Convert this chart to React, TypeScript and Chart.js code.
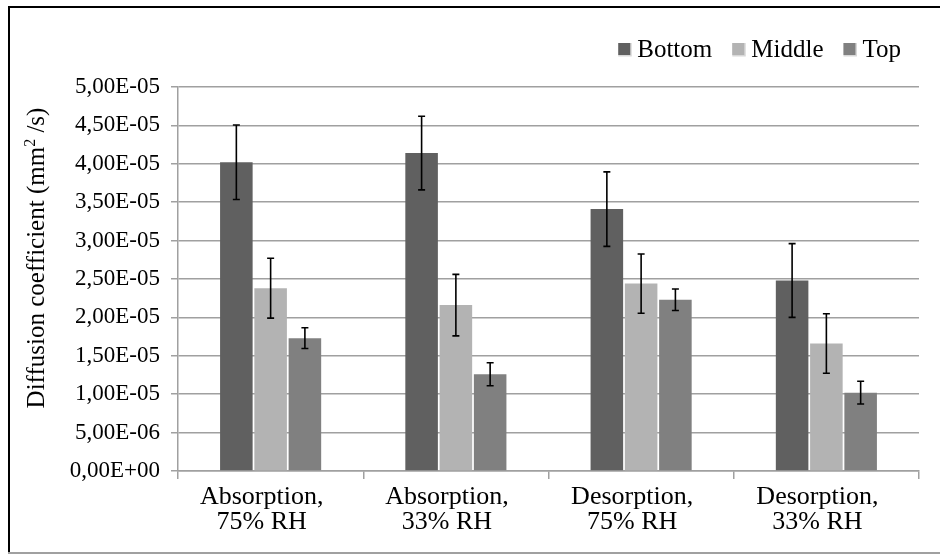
import React, { useEffect, useRef } from 'react';
import { Chart, registerables } from 'chart.js';

Chart.register(...registerables);

const categories: string[][] = [
  ['Absorption,', '75% RH'],
  ['Absorption,', '33% RH'],
  ['Desorption,', '75% RH'],
  ['Desorption,', '33% RH'],
];
const seriesNames = ['Bottom', 'Middle', 'Top'];
const seriesColors = ['#606060', '#b3b3b3', '#808080'];

const bottomValues = [4.02e-5, 4.14e-5, 3.41e-5, 2.48e-5];
const middleValues = [2.38e-5, 2.16e-5, 2.44e-5, 1.66e-5];
const topValues = [1.73e-5, 1.26e-5, 2.23e-5, 1.02e-5];

const bottomErrors = [0.485e-5, 0.48e-5, 0.485e-5, 0.48e-5];
const middleErrors = [0.39e-5, 0.4e-5, 0.385e-5, 0.387e-5];
const topErrors = [0.135e-5, 0.15e-5, 0.14e-5, 0.148e-5];

const yTickLabels = [
  '0,00E+00', '5,00E-06', '1,00E-05', '1,50E-05', '2,00E-05', '2,50E-05',
  '3,00E-05', '3,50E-05', '4,00E-05', '4,50E-05', '5,00E-05',
];
const yStep = 5e-6;
const yMax = 5e-5;

const yTitleMain = 'Diffusion coefficient (mm';
const yTitleSup = '2';
const yTitleEnd = ' /s)';

const FONT = '"Liberation Serif", "Times New Roman", serif';
const GRID = '#a0a0a0';

const framePlugin = {
  id: 'frame',
  beforeDraw(chart: any) {
    const ctx = chart.ctx;
    ctx.save();
    ctx.fillStyle = '#ffffff';
    ctx.fillRect(0, 0, chart.width, chart.height);
    ctx.restore();
  },
  afterDraw(chart: any) {
    const ctx = chart.ctx;
    ctx.save();
    ctx.strokeStyle = '#000000';
    ctx.lineWidth = 2;
    ctx.beginPath();
    ctx.moveTo(9, 552);
    ctx.lineTo(9, 7);
    ctx.lineTo(chart.width, 7);
    ctx.stroke();
    ctx.strokeStyle = '#a0a0a0';
    ctx.beginPath();
    ctx.moveTo(8, 553);
    ctx.lineTo(chart.width, 553);
    ctx.stroke();
    ctx.restore();
  },
};

const errorBarPlugin = {
  id: 'errorBars',
  afterDatasetsDraw(chart: any) {
    const ctx = chart.ctx;
    const y = chart.scales.y;
    chart.data.datasets.forEach((ds: any, di: number) => {
      const meta = chart.getDatasetMeta(di);
      meta.data.forEach((bar: any, i: number) => {
        const v = ds.data[i];
        const e = ds.errors[i];
        const x = bar.x;
        const yTop = y.getPixelForValue(v + e);
        const yBot = y.getPixelForValue(v - e);
        ctx.save();
        ctx.strokeStyle = '#000000';
        ctx.lineWidth = 1.6;
        ctx.beginPath();
        ctx.moveTo(x, yTop);
        ctx.lineTo(x, yBot);
        ctx.moveTo(x - 3.5, yTop);
        ctx.lineTo(x + 3.5, yTop);
        ctx.moveTo(x - 3.5, yBot);
        ctx.lineTo(x + 3.5, yBot);
        ctx.stroke();
        ctx.restore();
      });
    });
  },
};

const legendPlugin = {
  id: 'customLegend',
  afterDraw(chart: any) {
    const ctx = chart.ctx;
    ctx.save();
    ctx.font = `25px ${FONT}`;
    ctx.textBaseline = 'alphabetic';
    ctx.textAlign = 'left';
    const box = 12;
    const gap = 7;
    const spacing = 20;
    const items = chart.data.datasets.map((ds: any) => ({
      label: ds.label,
      color: ds.backgroundColor,
      w: ctx.measureText(ds.label).width,
    }));
    const total = items.reduce((s: number, it: any) => s + box + gap + it.w, 0) + spacing * (items.length - 1);
    let x = 901 - total;
    const baseline = 56.5;
    items.forEach((it: any) => {
      ctx.fillStyle = '#d8d8d8';
      ctx.fillRect(x, 43, box + 1.5, box + 1.5);
      ctx.fillStyle = it.color;
      ctx.fillRect(x, 43, box, box);
      ctx.fillStyle = '#000000';
      ctx.fillText(it.label, x + box + gap, baseline);
      x += box + gap + it.w + spacing;
    });
    ctx.restore();
  },
};

const yTitlePlugin = {
  id: 'yTitle',
  afterDraw(chart: any) {
    const ctx = chart.ctx;
    ctx.save();
    ctx.fillStyle = '#000000';
    ctx.textBaseline = 'alphabetic';
    ctx.textAlign = 'left';
    const mainFont = `25px ${FONT}`;
    const supFont = `16px ${FONT}`;
    ctx.font = mainFont;
    const w1 = ctx.measureText(yTitleMain).width;
    const w3 = ctx.measureText(yTitleEnd).width;
    ctx.font = supFont;
    const w2 = ctx.measureText(yTitleSup).width;
    const total = w1 + w2 + w3;
    ctx.translate(44, 258);
    ctx.rotate(-Math.PI / 2);
    let lx = -total / 2;
    ctx.font = mainFont;
    ctx.fillText(yTitleMain, lx, 0);
    lx += w1;
    ctx.font = supFont;
    ctx.fillText(yTitleSup, lx, -9);
    lx += w2;
    ctx.font = mainFont;
    ctx.fillText(yTitleEnd, lx, 0);
    ctx.restore();
  },
};

export default function App() {
  const canvasRef = useRef<HTMLCanvasElement | null>(null);

  useEffect(() => {
    if (!canvasRef.current) return;
    const values = [bottomValues, middleValues, topValues];
    const errors = [bottomErrors, middleErrors, topErrors];
    const chart = new Chart(canvasRef.current, {
      type: 'bar',
      data: {
        labels: categories,
        datasets: seriesNames.map((name, i) => ({
          label: name,
          data: values[i],
          errors: errors[i],
          backgroundColor: seriesColors[i],
          borderWidth: 0,
          categoryPercentage: 0.555,
          barPercentage: 0.95,
        })) as any,
      },
      options: {
        animation: false,
        responsive: false,
        devicePixelRatio: 1,
        layout: { padding: { top: 87, right: 21, bottom: 0, left: 0 } },
        plugins: {
          legend: { display: false },
          tooltip: { enabled: false },
        },
        scales: {
          x: {
            grid: {
              display: true,
              drawOnChartArea: false,
              offset: true,
              tickLength: 8,
              color: GRID,
              lineWidth: 1.5,
            },
            border: { color: GRID, width: 1.5 },
            ticks: {
              padding: 6,
              labelOffset: -9,
              color: '#000000',
              maxRotation: 0,
              autoSkip: false,
              font: { family: FONT, size: 26, lineHeight: 0.95 },
            },
            afterFit: (s: any) => {
              s.height = 83;
            },
          },
          y: {
            min: 0,
            max: yMax,
            ticks: {
              stepSize: yStep,
              padding: 11,
              color: '#000000',
              font: { family: FONT, size: 23 },
              callback: (value: any) => yTickLabels[Math.round(Number(value) / yStep)] ?? '',
            },
            grid: { color: GRID, lineWidth: 1.5, tickLength: 7 },
            border: { color: GRID, width: 1.5 },
            afterFit: (s: any) => {
              s.width = 178;
            },
          },
        },
      },
      plugins: [framePlugin, errorBarPlugin, legendPlugin, yTitlePlugin],
    });
    return () => chart.destroy();
  }, []);

  return (
    <div style={{ position: 'fixed', left: 0, top: 0, width: 940, height: 554, background: '#fff' }}>
      <canvas ref={canvasRef} width={940} height={554} style={{ display: 'block', width: 940, height: 554 }} />
    </div>
  );
}
